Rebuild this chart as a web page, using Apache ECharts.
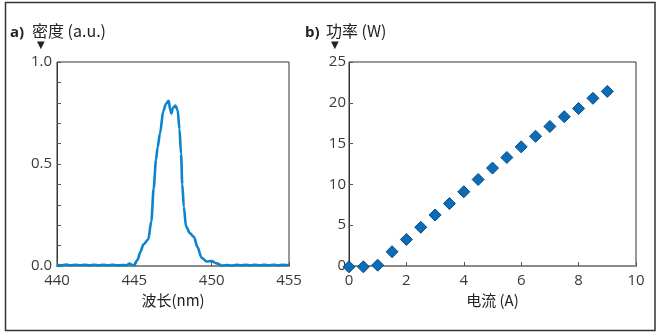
<!DOCTYPE html>
<html>
<head>
<meta charset="utf-8">
<script src="https://cdn.jsdelivr.net/npm/echarts@6/dist/echarts.min.js"></script>
<style>
  html, body { margin: 0; padding: 0; background: #fff; }
  #chart { width: 660px; height: 335px; }
</style>
</head>
<body>
<div id="chart"></div>
<script>
// Panel a: emission spectrum
const wavelength = [
  440.0, 440.3, 440.6, 440.9, 441.2, 441.5, 441.8, 442.1, 442.4, 442.7,
  443.0, 443.3, 443.6, 443.9, 444.2, 444.5, 444.7, 444.85, 445.0, 445.2,
  445.4, 445.58, 445.9, 446.1, 446.25, 446.4, 446.5, 446.66, 446.87, 447.05,
  447.22, 447.32, 447.39, 447.5, 447.65, 447.8, 447.92, 448.02, 448.1, 448.2,
  448.34, 448.6, 448.86, 449.07, 449.35, 449.68, 450.0, 450.32, 450.65, 451.0,
  451.3, 451.6, 451.9, 452.2, 452.5, 452.8, 453.1, 453.4, 453.7, 454.0,
  454.3, 454.6, 455.0
];
const density = [
  0.006, 0.003, 0.007, 0.003, 0.006, 0.003, 0.006, 0.003, 0.006, 0.003,
  0.006, 0.003, 0.006, 0.003, 0.005, 0.004, 0.012, 0.006, 0.004, 0.03,
  0.07, 0.105, 0.13, 0.22, 0.38, 0.52, 0.58, 0.65, 0.76, 0.795,
  0.81, 0.765, 0.748, 0.775, 0.787, 0.765, 0.67, 0.55, 0.40, 0.29,
  0.195, 0.16, 0.142, 0.095, 0.04, 0.022, 0.024, 0.013, 0.002, 0.005,
  0.002, 0.006, 0.003, 0.006, 0.003, 0.006, 0.003, 0.006, 0.003, 0.006,
  0.003, 0.006, 0.004
];
const densityTickLabels = ['0.0', '0.5', '1.0'];

// Panel b: output power vs drive current
const current = [0, 0.5, 1, 1.5, 2, 2.5, 3, 3.5, 4, 4.5, 5, 5.5, 6, 6.5, 7, 7.5, 8, 8.5, 9];
const power = [-0.1, -0.1, 0.1, 1.75, 3.25, 4.75, 6.25, 7.65, 9.1, 10.6, 12.0, 13.3, 14.6, 15.9, 17.1, 18.3, 19.3, 20.55, 21.4];

const FONT = '"Open Sans", "Noto Sans CJK SC", sans-serif';
const CJK = '"Noto Sans CJK SC", "Open Sans", sans-serif';
const TEXT = '#3a3a3a';

const chart = echarts.init(document.getElementById('chart'), null, { renderer: 'canvas' });

function boxAxisX(gridIndex, min, max, interval, name) {
  return {
    type: 'value', gridIndex, min, max, interval,
    name, nameLocation: 'middle', nameGap: 25,
    nameTextStyle: { fontFamily: CJK, fontSize: 15, color: '#222' },
    axisLine: { show: true, lineStyle: { color: '#8a8a8a', width: 2 } },
    axisTick: { show: true, inside: true, length: 4, lineStyle: { color: '#555' } },
    axisLabel: { fontFamily: FONT, fontSize: 15, color: TEXT, margin: 7 },
    splitLine: { show: false }
  };
}

const option = {
  animation: false,
  backgroundColor: '#fff',
  grid: [
    { left: 57, top: 62, width: 232, height: 204, show: true, borderColor: '#333', borderWidth: 1 },
    { left: 349, top: 62, width: 287, height: 204, show: true, borderColor: '#333', borderWidth: 1 }
  ],
  xAxis: [
    boxAxisX(0, 440, 455, 5, '波长(nm)'),
    boxAxisX(1, 0, 10, 2, '电流 (A)')
  ],
  yAxis: [
    {
      type: 'value', gridIndex: 0, min: 0, max: 1, interval: 0.1,
      axisLine: { show: true, lineStyle: { color: '#333', width: 1 } },
      axisTick: { show: true, inside: true, length: 4, lineStyle: { color: '#555' } },
      axisLabel: {
        fontFamily: FONT, fontSize: 15, color: TEXT, margin: 5,
        formatter: v => {
          const k = Math.round(v * 2);
          return Math.abs(v * 2 - k) < 1e-6 ? densityTickLabels[k] : '';
        }
      },
      splitLine: { show: false }
    },
    {
      type: 'value', gridIndex: 1, min: 0, max: 25, interval: 5,
      axisLine: { show: true, lineStyle: { color: '#333', width: 1 } },
      axisTick: { show: true, inside: true, length: 4, lineStyle: { color: '#555' } },
      axisLabel: { fontFamily: FONT, fontSize: 15, color: TEXT, margin: 3 },
      splitLine: { show: false }
    }
  ],
  series: [
    {
      type: 'line', xAxisIndex: 0, yAxisIndex: 0,
      data: wavelength.map((w, i) => [w, density[i]]),
      showSymbol: false, smooth: 0.3, smoothMonotone: 'x',
      lineStyle: { color: '#0a84cc', width: 2.6 },
      z: 3
    },
    {
      type: 'scatter', xAxisIndex: 1, yAxisIndex: 1,
      data: current.map((c, i) => [c, power[i]]),
      symbol: 'diamond', symbolSize: 12, clip: false,
      itemStyle: { color: '#0c6db6', borderColor: '#0a4a85', borderWidth: 1, opacity: 1 },
      z: 3
    }
  ],
  graphic: [
    { type: 'rect', shape: { x: 5.5, y: 2.5, width: 649.5, height: 328 },
      style: { fill: 'none', stroke: '#333', lineWidth: 1.5 }, z: 10 },
    { type: 'text', left: 10, top: 25,
      style: { text: 'a)', font: 'bold 15px ' + FONT, fill: '#222' } },
    { type: 'text', left: 32, top: 23,
      style: { text: '密度 (a.u.)', font: '16px ' + CJK, fill: '#222' } },
    { type: 'text', left: 37, top: 40,
      style: { text: '▼', font: '10px "DejaVu Sans"', fill: '#222' } },
    { type: 'text', left: 305, top: 25,
      style: { text: 'b)', font: 'bold 15px ' + FONT, fill: '#222' } },
    { type: 'text', left: 326, top: 23,
      style: { text: '功率 (W)', font: '16px ' + CJK, fill: '#222' } },
    { type: 'text', left: 331, top: 40,
      style: { text: '▼', font: '10px "DejaVu Sans"', fill: '#222' } }
  ]
};

chart.setOption(option);
</script>
</body>
</html>
